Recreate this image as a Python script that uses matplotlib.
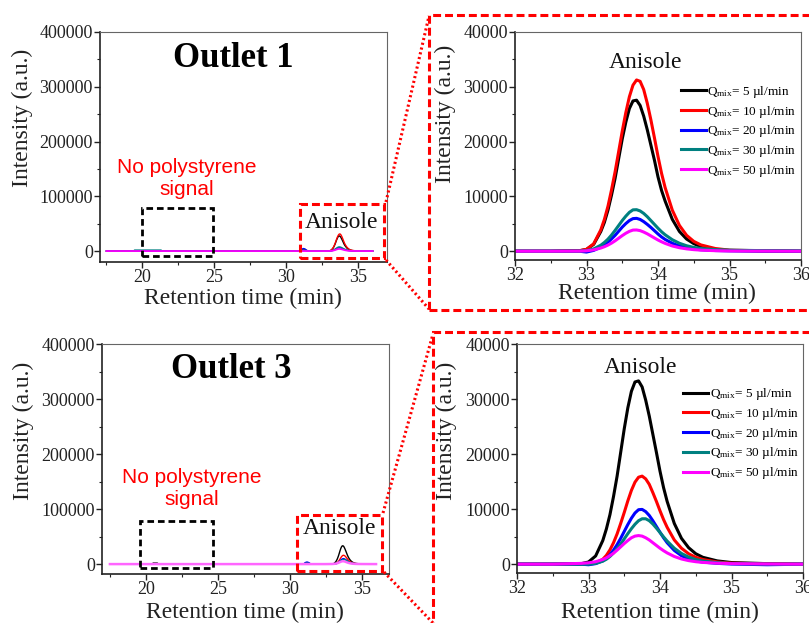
import matplotlib
matplotlib.use('Agg')
import matplotlib.pyplot as plt
from matplotlib.patches import Rectangle
from matplotlib.lines import Line2D
from matplotlib.ticker import MultipleLocator

plt.rcParams['font.family'] = ['Liberation Serif', 'DejaVu Serif']
plt.rcParams['mathtext.fontset'] = 'custom'
plt.rcParams['mathtext.rm'] = 'Liberation Serif'
plt.rcParams['mathtext.it'] = 'Liberation Serif:italic'

# ---------------- data ----------------
series_labels = [r'Q$_{\rm mix}$= 5 µl/min', r'Q$_{\rm mix}$= 10 µl/min', r'Q$_{\rm mix}$= 20 µl/min',
                 r'Q$_{\rm mix}$= 30 µl/min', r'Q$_{\rm mix}$= 50 µl/min']
series_colors = ['black', '#ff0000', '#0000ff', '#008080', '#ff00ff']

# retention times (min) in the anisole window
peak_x = [32.0, 32.5, 32.9, 33.0, 33.1, 33.2, 33.25, 33.3, 33.35, 33.4, 33.45, 33.5, 33.55, 33.6, 33.65,
          33.7, 33.75, 33.8, 33.85, 33.9, 33.95, 34.0, 34.05, 34.1, 34.2, 34.3, 34.4, 34.5, 34.6, 34.8,
          35.0, 35.5, 36.0]

# Outlet 1 intensities in anisole window
o1_black = [0, 0, 80, 330, 1250, 3600, 5260, 7480, 10250, 13300, 16900, 20500, 23550, 26040, 27420,
            27560, 26600, 24650, 22160, 19390, 16620, 13570, 11080, 9140, 5820, 3600, 2220, 1390, 830, 330,
            140, 55, 0]
o1_red = [0, 0, 100, 350, 1350, 3900, 5800, 8200, 11200, 14500, 18200, 21900, 25300, 28200, 30300,
          31250, 31000, 29500, 27000, 24000, 20700, 17300, 14200, 11600, 7500, 4700, 2900, 1800, 1150, 500,
          200, 70, 0]
o1_blue = [0, 0, 0, -150, 150, 750, 1150, 1650, 2250, 2900, 3650, 4400, 5050, 5600, 5950,
           6000, 5800, 5400, 4900, 4350, 3750, 3150, 2600, 2150, 1450, 950, 620, 400, 270, 130,
           70, 20, 0]
o1_teal = [0, 0, 40, 130, 420, 1100, 1600, 2200, 2950, 3800, 4700, 5600, 6400, 7100, 7550,
           7580, 7350, 6900, 6300, 5600, 4900, 4200, 3550, 3000, 2100, 1450, 1000, 700, 500, 300,
           200, 100, 50]
o1_magenta = [0, 0, 20, 80, 250, 580, 820, 1120, 1480, 1900, 2380, 2850, 3280, 3630, 3860,
              3880, 3760, 3500, 3180, 2800, 2420, 2050, 1720, 1430, 960, 640, 430, 290, 200, 100,
              50, 20, 0]

# Outlet 3 intensities in anisole window
o3_black = [0, 0, 100, 400, 1500, 4300, 6400, 9000, 12300, 16000, 20300, 24600, 28400, 31400, 33100,
            33300, 32200, 29800, 26900, 23600, 20300, 16900, 13900, 11400, 7400, 4700, 3000, 1900, 1250, 600,
            300, 100, 0]
o3_red = [0, 0, 0, 30, 200, 900, 1600, 2600, 3900, 5500, 7400, 9400, 11500, 13400, 14900,
          15800, 16000, 15500, 14500, 13000, 11400, 9700, 8100, 6700, 4400, 2900, 1900, 1250, 850, 400,
          180, 60, 0]
o3_blue = [0, 0, 0, -100, 100, 600, 1050, 1700, 2550, 3550, 4700, 5950, 7200, 8350, 9300,
           9900, 9950, 9550, 8850, 7900, 6850, 5800, 4800, 3900, 2500, 1550, 950, 600, 380, 150,
           30, -100, 0]
o3_teal = [0, 0, 0, 0, 150, 550, 900, 1400, 2050, 2800, 3650, 4600, 5550, 6450, 7250,
           7900, 8250, 8250, 7900, 7300, 6550, 5750, 4950, 4200, 2900, 1950, 1300, 850, 580, 280,
           120, 30, 0]
o3_magenta = [0, 0, 150, 250, 450, 850, 1150, 1550, 2000, 2550, 3150, 3750, 4300, 4800, 5100,
              5200, 5100, 4800, 4400, 3900, 3400, 2900, 2450, 2050, 1400, 950, 650, 450, 320, 180,
              100, 40, 0]

# earlier part of the chromatograms (full-range panels)
early_x = [17.5, 19.4, 19.45, 20.45, 20.5, 20.8, 20.85, 21.3, 21.35, 30.9, 31.0, 31.1, 31.2, 31.3, 31.4, 31.5, 31.7]
o1_black_early = [0, 0, 0, 0, 0, 0, 0, 0, 0, 0, 800, 2600, 3400, 2800, 1200, 300, 0]
o1_red_early = [0, 0, 0, 0, 0, 0, 0, 0, 0, 0, 500, 1600, 2200, 1700, 700, 200, 0]
o1_blue_early = [0, 0, 0, 0, 0, 0, 0, 0, 0, 0, 1200, 3600, 4600, 3700, 1500, 400, 0]
o1_teal_early = [0, 0, 1800, 1800, 1800, 1800, 1800, 1800, 0, 0, 400, 1200, 1700, 1300, 500, 100, 0]
o1_magenta_early = [0, 0, 0, 0, 0, 0, 0, 0, 0, 0, 0, 0, 0, 0, 0, 0, 0]
o3_black_early = [0, 0, 0, 0, 1800, 1800, 0, 0, 0, 0, 600, 1800, 2500, 2000, 900, 200, 0]
o3_red_early = [0, 0, 0, 0, 0, 0, 0, 0, 0, 0, 400, 1300, 1800, 1400, 600, 100, 0]
o3_blue_early = [0, 0, 0, 0, 0, 0, 0, 0, 0, 0, 1000, 3000, 3800, 3000, 1200, 300, 0]
o3_teal_early = [0, 0, 0, 0, 0, 0, 0, 0, 0, 0, 500, 1500, 2000, 1500, 600, 150, 0]
o3_magenta_early = [0, 0, 0, 0, 0, 0, 0, 0, 0, 0, 0, 0, 0, 0, 0, 0, 0]

o1_peaks = [o1_black, o1_red, o1_blue, o1_teal, o1_magenta]
o1_early = [o1_black_early, o1_red_early, o1_blue_early, o1_teal_early, o1_magenta_early]
o3_peaks = [o3_black, o3_red, o3_blue, o3_teal, o3_magenta]
o3_early = [o3_black_early, o3_red_early, o3_blue_early, o3_teal_early, o3_magenta_early]

# ---------------- figure ----------------
W, H = 809, 623
fig = plt.figure(figsize=(W / 100, H / 100), dpi=100)


def rect_px(l, t, r, b):
    return [l / W, 1 - b / H, (r - l) / W, (b - t) / H]


def style(ax, xlim, ylim, xmaj, xmin, ymaj, ymin):
    ax.set_xlim(*xlim)
    ax.set_ylim(*ylim)
    ax.xaxis.set_major_locator(MultipleLocator(xmaj))
    ax.xaxis.set_minor_locator(MultipleLocator(xmin))
    ax.yaxis.set_major_locator(MultipleLocator(ymaj))
    ax.yaxis.set_minor_locator(MultipleLocator(ymin))
    ax.tick_params(which='major', direction='out', length=4, width=1.0, labelsize=13, pad=1.2, colors='#222222')
    ax.tick_params(which='minor', direction='out', length=2.5, width=0.8, colors='#222222')
    for s in ('left', 'bottom'):
        ax.spines[s].set_linewidth(1.2)
        ax.spines[s].set_color('#222222')
    for s in ('top', 'right'):
        ax.spines[s].set_linewidth(0.8)
        ax.spines[s].set_color('#666666')


def labels(ax, ylx, yly, xlx, xly):
    ax.text(ylx, yly, 'Intensity (a.u.)', transform=ax.transAxes, rotation=90,
            ha='center', va='center', fontsize=17, color='#222222')
    ax.text(xlx, xly, 'Retention time (min)', transform=ax.transAxes,
            ha='center', va='center', fontsize=17, color='#222222')


def full_panel(ax, early, peaks, mag_color, mag_lw, title, tpos, npos, apos, ylpos, xlpos):
    for i, (e, p) in enumerate(zip(early, peaks)):
        c = series_colors[i] if i < 4 else mag_color
        lw = 1.0 if i < 4 else mag_lw
        ax.plot(early_x + peak_x, e + p, color=c, lw=lw)
    style(ax, ax.get_xlim(), ax.get_ylim(), 5, 2.5, 100000, 50000)
    ax.text(*tpos, title, transform=ax.transAxes, ha='center', va='center',
            fontsize=25, fontweight='bold')
    ax.text(*npos, 'No polystyrene\nsignal', transform=ax.transAxes, ha='center', va='center',
            fontsize=15, color='#ff0000', family=['Liberation Sans', 'DejaVu Sans'], linespacing=1.15)
    ax.text(*apos, 'Anisole', transform=ax.transAxes, ha='center', va='center', fontsize=17, color='#111111')
    labels(ax, *ylpos, *xlpos)


def zoom_panel(ax, peaks, apos, legpos, ylpos, xlpos):
    for i, p in enumerate(peaks):
        ax.plot(peak_x, p, color=series_colors[i], lw=2.2, label=series_labels[i])
    style(ax, (32, 36), (-1600, 40000), 1, 0.5, 10000, 5000)
    ax.text(*apos, 'Anisole', transform=ax.transAxes, ha='center', va='center', fontsize=17, color='#111111')
    ax.legend(loc='upper left', bbox_to_anchor=legpos, frameon=False, fontsize=9.5,
              handlelength=1.9, handletextpad=0.1, borderpad=0, borderaxespad=0, labelspacing=0.28)
    labels(ax, *ylpos, *xlpos)


ax_tl = fig.add_axes(rect_px(100, 32, 387, 262))
ax_tl.set_xlim(17.05, 37.0)
ax_tl.set_ylim(-20000, 400000)
full_panel(ax_tl, o1_early, o1_peaks, '#ff00ff', 1.3, 'Outlet 1', (0.463, 0.885), (0.303, 0.363),
           (0.843, 0.170), (-0.272, 0.626), (0.497, -0.158))

ax_bl = fig.add_axes(rect_px(102, 344, 389, 574))
ax_bl.set_xlim(16.95, 36.9)
ax_bl.set_ylim(-18000, 400000)
full_panel(ax_bl, o3_early, o3_peaks, '#ff66ff', 1.8, 'Outlet 3', (0.452, 0.888), (0.314, 0.372),
           (0.826, 0.199), (-0.274, 0.623), (0.498, -0.168))

ax_tr = fig.add_axes(rect_px(515, 32, 801, 260))
zoom_panel(ax_tr, o1_peaks, (0.455, 0.868), (0.58, 0.772), (-0.245, 0.64), (0.495, -0.148))

ax_br = fig.add_axes(rect_px(517, 344, 803, 573))
zoom_panel(ax_br, o3_peaks, (0.433, 0.898), (0.581, 0.815), (-0.246, 0.621), (0.5, -0.172))


# ---------------- annotation boxes and connectors (figure pixel coords) ----------------
def fbox(l, t, r, b, color, lw, ls):
    fig.add_artist(Rectangle((l / W, 1 - b / H), (r - l) / W, (b - t) / H, transform=fig.transFigure,
                             fill=False, edgecolor=color, lw=lw, linestyle=ls, clip_on=False))


def fline(x0, y0, x1, y1):
    fig.add_artist(Line2D([x0 / W, x1 / W], [1 - y0 / H, 1 - y1 / H], transform=fig.transFigure,
                          color='#ff0000', lw=2.2, linestyle=(0, (0.7, 0.9)), clip_on=False))


dash_k = (0, (2.4, 1.4))
dash_r = (0, (2.6, 1.3))
fbox(142, 208, 213, 256, 'black', 2.0, dash_k)
fbox(300, 204, 384, 258, '#ff0000', 2.2, dash_r)
fbox(140, 521, 213, 568, 'black', 2.0, dash_k)
fbox(297, 515, 382, 571, '#ff0000', 2.2, dash_r)
fbox(429, 15, 830, 310, '#ff0000', 2.2, dash_r)
fbox(433, 332, 830, 650, '#ff0000', 2.2, dash_r)

fline(386, 202, 429, 16)
fline(386, 260, 429, 309)
fline(383, 513, 433, 334)
fline(384, 572, 433, 623)

fig.savefig('out.png', dpi=100)
